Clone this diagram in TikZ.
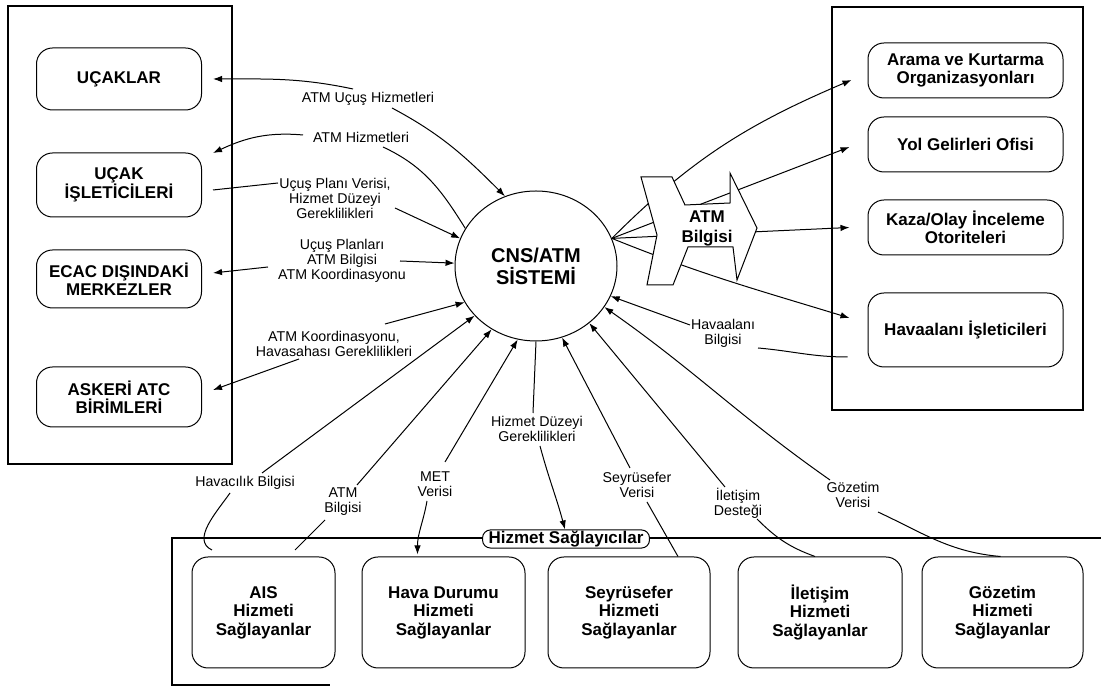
\documentclass[tikz,border=0pt]{standalone}
\usepackage{fontspec}
\setmainfont{Liberation Sans}
\usetikzlibrary{arrows.meta,shapes.geometric}
\begin{document}
\begin{tikzpicture}[x=1pt,y=1pt,
  ent/.style={draw, line width=1pt, rounded corners=16pt, align=center, inner sep=0pt,
              font=\bfseries\fontsize{17}{18.5}\selectfont},
  lbl/.style={align=center, inner sep=1pt, font=\fontsize{14.2}{15}\selectfont},
  flow/.style={line width=1pt, -{Latex[length=9pt,width=6.5pt]}},
  link/.style={line width=1pt},
  outerframe/.style={line width=1.1pt}]
\useasboundingbox (0,0) rectangle (1101,687);

% outer frames
\draw[outerframe] (8,681) rectangle (232,223);
\draw[outerframe] (832,680) rectangle (1083,277);
\draw[outerframe] (1101,149) -- (172,149) -- (172,2) -- (330,2);

% left-hand entities
\node[ent, minimum width=165, minimum height=62] (u1) at (119,608) {UÇAKLAR};
\node[ent, minimum width=165, minimum height=64] (u2) at (119,502) {UÇAK\\İŞLETİCİLERİ};
\node[ent, minimum width=165, minimum height=58] (u3) at (119,408) {ECAC DIŞINDAKİ\\MERKEZLER};
\node[ent, minimum width=165, minimum height=60] (u4) at (119,290) {ASKERİ ATC\\BİRİMLERİ};

% right-hand entities
\node[ent, minimum width=195, minimum height=55] (r1) at (965.5,616.5) {Arama ve Kurtarma\\Organizasyonları};
\node[ent, minimum width=195, minimum height=55] (r2) at (965.5,542.5) {Yol Gelirleri Ofisi};
\node[ent, minimum width=195, minimum height=55] (r3) at (965.5,459.5) {Kaza/Olay İnceleme\\Otoriteleri};
\node[ent, minimum width=195, minimum height=74] (r4) at (965.5,357) {Havaalanı İşleticileri};

% service providers
\node[ent, minimum width=143, minimum height=111] (b1) at (263.5,74.5) {AIS\\Hizmeti\\Sağlayanlar};
\node[ent, minimum width=163, minimum height=111] (b2) at (443.5,74.5) {Hava Durumu\\Hizmeti\\Sağlayanlar};
\node[ent, minimum width=162, minimum height=111] (b3) at (629,74.5) {Seyrüsefer\\Hizmeti\\Sağlayanlar};
\node[ent, minimum width=164, minimum height=111] (b4) at (820,74.5) {İletişim\\Hizmeti\\Sağlayanlar};
\node[ent, minimum width=161, minimum height=111] (b5) at (1002.5,74.5) {Gözetim\\Hizmeti\\Sağlayanlar};
\node[draw, fill=white, line width=1pt, rounded corners=8pt, inner xsep=6pt, inner ysep=1pt,
      font=\bfseries\fontsize{17}{18}\selectfont] (hs) at (566,148) {Hizmet Sağlayıcılar};

% central system
\node[draw, ellipse, line width=1pt, minimum width=162, minimum height=150, inner sep=0pt, align=center,
      font=\bfseries\fontsize{20}{22}\selectfont] (cns) at (536,421) {CNS/ATM\\SİSTEMİ};

% flow labels
\node[lbl] (la1) at (368,588) {ATM Uçuş Hizmetleri};
\node[lbl] (la2) at (361,550) {ATM Hizmetleri};
\node[lbl] (la3) at (335,489) {Uçuş Planı Verisi,\\Hizmet Düzeyi\\Gereklilikleri};
\node[lbl] (la4) at (342,426) {Uçuş Planları\\ATM Bilgisi\\ATM Koordinasyonu};
\node[lbl] (la5) at (334,343) {ATM Koordinasyonu,\\Havasahası Gereklilikleri};
\node[lbl] (lb1) at (245,204) {Havacılık Bilgisi};
\node[lbl] (lb2) at (343,185) {ATM\\Bilgisi};
\node[lbl] (lb3) at (435,203) {MET\\Verisi};
\node[lbl] (lb4) at (537,258) {Hizmet Düzeyi\\Gereklilikleri};
\node[lbl] (lb5) at (637,202) {Seyrüsefer\\Verisi};
\node[lbl] (lb6) at (738,184) {İletişim\\Desteği};
\node[lbl] (lb7) at (853,192) {Gözetim\\Verisi};
\node[lbl] (lb8) at (723,354) {Havaalanı\\Bilgisi};

% free ends above the AIS box
\coordinate (hbEnd) at (212,137);
\coordinate (abEnd) at (295,137);

% left-hand flows
\draw[flow] ([xshift=-15pt,yshift=10pt]la1.center) to[out=168,in=0] ([xshift=11pt]u1.east);
\draw[flow] ([xshift=24pt,yshift=-9pt]la1.center) to[out=-28,in=135] (cns.114);
\draw[flow] ([xshift=-58pt,yshift=2pt]la2.center) to[out=175,in=25] ([xshift=11pt,yshift=32pt]u2.east);
\draw[link] ([xshift=22pt,yshift=-10pt]la2.center) to[out=-25,in=122] (cns.152);
\draw[link] ([xshift=-57pt,yshift=15pt]la3.center) -- ([xshift=11pt,yshift=-5pt]u2.east);
\draw[flow] ([xshift=60pt,yshift=-10pt]la3.center) -- (cns.160);
\draw[flow] ([xshift=-74pt,yshift=-6pt]la4.center) -- ([xshift=11pt,yshift=6pt]u3.east);
\draw[flow] ([xshift=58pt]la4.center) -- (cns.178);
\draw[flow] ([xshift=-35pt,yshift=-15pt]la5.center) -- ([xshift=11pt,yshift=7pt]u4.east);
\draw[flow] ([xshift=51pt,yshift=20pt]la5.center) -- (cns.207);

% flows to and from the service providers
\draw[flow] ([xshift=17pt,yshift=10pt]lb1.center) -- (cns.219.5);
\draw[link] ([xshift=-15pt,yshift=-10pt]lb1.center) to[out=-125,in=155] (hbEnd);
\draw[flow] ([xshift=14pt,yshift=17pt]lb2.center) -- (cns.235);
\draw[link] ([xshift=-18pt,yshift=-18pt]lb2.center) -- (abEnd);
\draw[flow] ([xshift=10pt,yshift=22pt]lb3.center) -- (cns.256);
\draw[flow] ([xshift=-8pt,yshift=-17pt]lb3.center) to[out=-100,in=90] ([xshift=-26pt,yshift=2pt]b2.north);
\draw[link] (cns.south) -- ([xshift=-4pt,yshift=16pt]lb4.center);
\draw[flow] ([xshift=3pt,yshift=-17pt]lb4.center) to[out=-75,in=105] ([xshift=-1pt]hs.north);
\draw[flow] ([xshift=-7pt,yshift=17pt]lb5.center) -- (cns.290);
\draw[link] ([xshift=10pt,yshift=-17pt]lb5.center) -- ([xshift=49pt]b3.north);
\draw[flow] ([xshift=-13pt,yshift=16pt]lb6.center) -- (cns.313);
\draw[link] ([xshift=19pt,yshift=-16pt]lb6.center) to[out=-45,in=160] ([xshift=-5pt]b4.north);
\draw[flow] ([xshift=-23pt,yshift=15pt]lb7.center) to[out=145,in=-35] (cns.329);
\draw[link] ([xshift=25pt,yshift=-17pt]lb7.center) to[out=-25,in=175] ([xshift=-2pt]b5.north);
\draw[flow] ([xshift=-33pt,yshift=8pt]lb8.center) to[out=160,in=-20] (cns.-22);
\draw[link] ([xshift=35pt,yshift=-15pt]lb8.center) to[out=-5,in=180] ([xshift=-20pt,yshift=-27pt]r4.west);

% ATM information fanning out to the right
\coordinate (fan) at (cns.20);
\draw[flow] (fan) to[out=45,in=203] ([xshift=-16pt,yshift=-9.5pt]r1.west);
\draw[flow] (fan) -- ([xshift=-18pt,yshift=-2.5pt]r2.west);
\draw[flow] (fan) -- ([xshift=-18pt]r3.west);
\draw[flow] (fan) to[out=-22,in=163] ([xshift=-18pt,yshift=12pt]r4.west);
\draw[link, fill=white] (641,510) -- (672,510) -- (685,482) -- (730,484) -- (730,514) -- (757,459)
  -- (737,407) -- (733,440) -- (688,440) -- (673,402) -- (647,402) -- (657,452) -- cycle;
\node[align=center, inner sep=0pt, font=\bfseries\fontsize{17}{20}\selectfont] (atmb) at (707,459) {ATM\\Bilgisi};
\end{tikzpicture}
\end{document}
